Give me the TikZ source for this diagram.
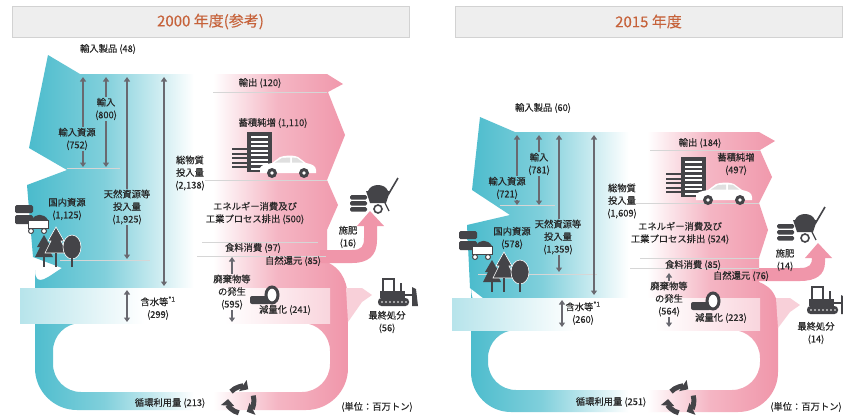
\documentclass[tikz,border=0pt]{standalone}
\usepackage{fontspec}
\setmainfont{Noto Sans CJK JP}[FakeBold=0.15]
\usetikzlibrary{arrows.meta}

\definecolor{flowblue}{RGB}{74,187,204}
\definecolor{flowpink}{RGB}{240,150,170}
\definecolor{icongray}{RGB}{68,68,72}
\definecolor{gaugegray}{RGB}{105,105,112}
\definecolor{titletext}{RGB}{198,98,58}

% blue -> white -> pink across the flow
\pgfdeclarehorizontalshading{flowlr}{100bp}{color(0bp)=(flowblue); color(25bp)=(flowblue);
  color(37bp)=(flowblue!70!white); color(51bp)=(white); color(54bp)=(white);
  color(64bp)=(flowpink!70!white); color(75bp)=(flowpink); color(100bp)=(flowpink)}
\pgfdeclarehorizontalshading{palelr}{100bp}{color(0bp)=(flowblue!40!white); color(25bp)=(flowblue!40!white);
  color(45bp)=(white); color(58bp)=(white); color(75bp)=(flowpink!40!white); color(100bp)=(flowpink!40!white)}

\tikzset{
  lbl/.style={font=\fontsize{9.3}{12.5}\selectfont, text=black!85, align=center, inner sep=0.8pt},
  yeartitle/.style={draw=gray!35, fill=gray!13, minimum height=31pt, text=titletext,
    font=\fontsize{15}{17}\selectfont, inner sep=0pt},
  gauge/.style={draw=gaugegray, line width=1.6pt, -{Triangle[length=4.5pt,width=6pt]}},
  bothway/.style={draw=gaugegray, line width=1.6pt, {Triangle[length=4.5pt,width=6pt]}-{Triangle[length=4.5pt,width=6pt]}},
  sepline/.style={draw=white!68!gray, line width=0.6pt},
  building/.pic={
    \foreach \y in {-4,0.5,...,16} \fill[icongray] (-20,\y) rectangle (-4,\y+2.2);
    \fill[icongray] (-5,-20) rectangle (20,20);
    \foreach \y in {-16,-11.5,...,16} \fill[white] (-1,\y) rectangle (16,\y+2.4);
  },
  car/.pic={
    \fill[white] (-28,6) -- (-28,1) .. controls (-27,-2) and (-22,-3) .. (-16,-4) -- (-8,-10)
      .. controls (-2,-12) and (6,-12) .. (10,-10) -- (18,-4) .. controls (24,-3) and (28,-1) .. (28,3) -- (28,6) -- cycle;
    \fill[gray!25] (-13,-4.5) -- (-6,-9) -- (2,-9.5) -- (2,-4.5) -- cycle;
    \fill[gray!25] (4,-9.5) -- (9,-9) -- (15,-4.5) -- (4,-4.5) -- cycle;
    \fill[icongray] (-16,6) circle (5) (16,6) circle (5);
    \fill[white] (-16,6) circle (1.8) (16,6) circle (1.8);
  },
  fert/.pic={
    \foreach \y in {-2,4,10} \fill[icongray, rounded corners=1.5pt] (-23,\y) rectangle (-6,\y+4.5);
    \fill[icongray] (-7,-6) -- (17,-6) -- (13,6) -- (-3,6) -- cycle;
    \fill[icongray] (-5,-6) .. controls (-2,-14) and (12,-14) .. (15,-6) -- cycle;
    \draw[icongray, line width=1.6pt] (15,-2) -- (25,-19);
    \draw[icongray, line width=1.3pt] (12,6) -- (16,14);
    \draw[icongray, line width=1.6pt, fill=white] (5,12) circle (4);
  },
  mine/.pic={
    \fill[icongray, rounded corners=1.5pt] (-17,-13) rectangle (1,-5);
    \fill[icongray, rounded corners=1.5pt] (-17,-3) rectangle (1,6);
    \fill[white, draw=icongray, line width=0.8pt] (-4,2) rectangle (16,10);
    \fill[icongray] (0,2) .. controls (3,-5) and (12,-5) .. (16,2) -- cycle;
    \draw[icongray, line width=1pt, fill=white] (-1,13) circle (2.5) (12,13) circle (2.5);
  },
  trees/.pic={
    \fill[icongray] (-14,-12) -- (-7,0) -- (-10,0) -- (-5,10) -- (-23,10) -- (-18,0) -- (-21,0) -- cycle;
    \fill[icongray] (-15,10) rectangle (-13,20);
    \fill[icongray, draw=white, line width=0.6pt] (-2,-20) -- (6,-6) -- (3,-6) -- (9,6) -- (-13,6) -- (-7,-6) -- (-10,-6) -- cycle;
    \fill[icongray] (-3,6) rectangle (-1,20);
    \fill[icongray, draw=white, line width=0.6pt] (14,0) ellipse (9 and 12);
    \fill[icongray] (13,10) rectangle (15,20);
  },
  tire/.pic={
    \fill[icongray, rounded corners=2pt] (-15,0) rectangle (5,8);
    \draw[icongray, line width=3pt, fill=white] (7,-1) ellipse (6 and 8);
  },
  dozer/.pic={
    \draw[icongray, line width=2pt] (-15,-13) -- (-2,-13) (-14,-13) -- (-14,0) (-3,-13) -- (-3,0);
    \fill[icongray] (-17,-1) rectangle (8,6);
    \draw[icongray, line width=1.5pt] (4,-1) -- (4,-9);
    \fill[icongray, rounded corners=3.5pt] (-19,6) rectangle (12,14);
    \foreach \x in {-15,-11,...,9} \fill[white] (\x,10) circle (0.8);
    \draw[icongray, line width=2pt] (8,3) -- (16,3);
    \fill[icongray] (15,-5) -- (19,-3) -- (21,14) -- (15,14) -- cycle;
  },
  % three chasing arrows, 84 degree arcs of radius 13
  recycle/.pic={
    \foreach \a in {100,220,340}
      \draw[icongray, line width=5pt, -{Triangle[length=6.5pt,width=13pt]}]
        (\a:13) .. controls +(\a+90:6.2) and +(\a-6:6.2) .. (\a+84:13);
  },
}

\begin{document}
\begin{tikzpicture}[x=1pt, y=-1pt]
\useasboundingbox (0,0) rectangle (843,416);
\fill[white] (0,0) rectangle (843,416);

\node[yeartitle, minimum width=397pt] (aTitle) at (210.5,21.5) {2000 年度(参考)};
\node[yeartitle, minimum width=387pt] (bTitle) at (648.5,21.5) {2015 年度};

% ---- 2000 ----
\shade[shading=flowlr, even odd rule]
  (48,55) -- (80,74) -- (327,74) -- (343,84) -- (328,92) -- (345,135) -- (327,180)
  -- (338,205) -- (327,230) -- (327,262)
  .. controls (344,270) and (348,285) .. (348,302)
  [rounded corners=42pt] -- (348,410) -- (35,410) -- (35,312)
  [sharp corners] .. controls (35,290) and (50,275) .. (62,268)
  -- (33,257) -- (27,185) -- (67,170) -- (29,148) -- cycle
  [rounded corners=28pt] (53,323) rectangle (330,392);
\shade[shading=palelr] (20,288) rectangle (330,323);
\fill[flowpink!45!white] (346,288) -- (362,288) -- (372,295) -- (362,302) -- (348,322) -- cycle;
\fill[flowpink] (320,250) -- (352,250) .. controls (362,250) and (364,246) .. (364,238) -- (364,226)
  -- (357,226) -- (370,211) -- (384,226) -- (377,226) -- (377,240)
  .. controls (377,256) and (368,263) .. (352,263) -- (320,263) -- cycle;

\draw[sepline] (67,168) -- (120,168);
\draw[sepline] (60,260) -- (150,260);
\draw[sepline] (213,92) -- (327,92);
\draw[sepline] (205,180) -- (327,180);
\draw[sepline] (202,242) -- (318,242);
\draw[sepline] (197,256) -- (326,256);

\pic at (252,152) {building};
\pic at (288,167) {car};
\pic at (373,197) {fert};
\pic at (32,218) {mine};
\pic at (58,247) {trees};
\pic at (265,296) {tire};
\pic at (397,292) {dozer};
\pic at (241,400) {recycle};

\node[lbl] (aImpProd) at (108,49) {輸入製品 (48)};
\node[lbl] (aImpRes) at (77,139) {輸入資源\\(752)};
\node[lbl] (aImp) at (106,109) {輸入\\(800)};
\node[lbl] (aNat) at (127,207) {天然資源等\\投入量\\(1,925)};
\node[lbl] (aTotal) at (190,173) {総物質\\投入量\\(2,138)};
\node[lbl] (aDom) at (67,209) {国内資源\\(1,125)};
\node[lbl] (aWater) at (158,308) {含水等\textsuperscript{*1}\\(299)};
\node[lbl] (aExport) at (260,83) {輸出 (120)};
\node[lbl] (aStock) at (273,123) {蓄積純増 (1,110)};
\node[lbl] (aEnergy) at (255,213) {エネルギー消費及び\\工業プロセス排出 (500)};
\node[lbl] (aFood) at (253,248) {食料消費 (97)};
\node[lbl] (aReturn) at (293,261) {自然還元 (85)};
\node[lbl] (aFert) at (348,237) {施肥\\(16)};
\node[lbl] (aWaste) at (232,292) {廃棄物等\\の発生\\(595)};
\node[lbl] (aReduce) at (285,310) {減量化 (241)};
\node[lbl] (aFinal) at (387,322) {最終処分\\(56)};
\node[lbl] (aCycle) at (170,403) {循環利用量 (213)};
\node[lbl] (aUnit) at (377,407) {(単位：百万トン)};

\coordinate (a1t) at (83,77);  \coordinate (a1b) at (83,167);
\coordinate (a2t) at (106,77); \coordinate (a2b) at (106,167);
\coordinate (a3t) at (127,77); \coordinate (a3b) at (127,259);
\coordinate (a4t) at (164,77); \coordinate (a4b) at (164,286);
\coordinate (a5t) at (127,290); \coordinate (a5b) at (127,322);
\coordinate (a6t) at (232,257); \coordinate (a6b) at (232,322);
\draw[gauge] (aImpRes.north -| a1t) -- (a1t);
\draw[gauge] (aImpRes.south -| a1b) -- (a1b);
\draw[gauge] (aImp.north) -- (a2t);
\draw[gauge] (aImp.south) -- (a2b);
\draw[gauge] (aNat.north) -- (a3t);
\draw[gauge] (aNat.south) -- (a3b);
\draw[bothway] (a4t) -- (a4b);
\draw[bothway] (a5t) -- (a5b);
\draw[gauge] (aWaste.north) -- (a6t);
\draw[gauge] (aWaste.south) -- (a6b);

% ---- 2015 ----
\shade[shading=flowlr, even odd rule]
  (480,117) -- (515,132) -- (759,132) -- (775,141) -- (760,150) -- (772,177) -- (759,203)
  -- (768,230) -- (759,258) -- (759,282)
  .. controls (774,288) and (778,298) .. (778,314)
  [rounded corners=40pt] -- (778,412) -- (471,412) -- (471,322)
  [sharp corners] .. controls (471,308) and (476,301) .. (483,298)
  -- (470,288) -- (467,225) -- (510,215) -- (472,190) -- cycle
  [rounded corners=28pt] (488,330) rectangle (760,390);
\shade[shading=palelr] (452,298) rectangle (760,330);
\fill[flowpink!45!white] (776,298) -- (790,298) -- (800,305) -- (790,312) -- (778,328) -- cycle;
\fill[flowpink] (752,268) -- (800,268) .. controls (810,268) and (812,264) .. (812,258)
  -- (805,258) -- (818,243) -- (832,258) -- (825,258) -- (825,262)
  .. controls (825,275) and (816,281) .. (800,281) -- (752,281) -- cycle;

\draw[sepline] (500,205) -- (555,205);
\draw[sepline] (478,274) -- (597,274);
\draw[sepline] (650,150) -- (760,150);
\draw[sepline] (636,203) -- (759,203);
\draw[sepline] (640,258) -- (759,258);
\draw[sepline] (630,268) -- (759,268);

\pic at (686,177) {building};
\pic at (724,194) {car};
\pic at (800,226) {fert};
\pic at (476,244) {mine};
\pic at (506,272) {trees};
\pic at (706,302) {tire};
\pic at (826,300) {dozer};
\pic at (681,400) {recycle};

\node[lbl] (bImpProd) at (543,108) {輸入製品 (60)};
\node[lbl] (bImpRes) at (507,188) {輸入資源\\(721)};
\node[lbl] (bImp) at (539,164) {輸入\\(781)};
\node[lbl] (bNat) at (558,237) {天然資源等\\投入量\\(1,359)};
\node[lbl] (bTotal) at (622,201) {総物質\\投入量\\(1,609)};
\node[lbl] (bDom) at (512,238) {国内資源\\(578)};
\node[lbl] (bWater) at (583,313) {含水等\textsuperscript{*1}\\(260)};
\node[lbl] (bExport) at (700,143) {輸出 (184)};
\node[lbl] (bStock) at (736,164) {蓄積純増\\(497)};
\node[lbl] (bEnergy) at (680,233) {エネルギー消費及び\\工業プロセス排出 (524)};
\node[lbl] (bFood) at (693,265) {食料消費 (85)};
\node[lbl] (bReturn) at (741,276) {自然還元 (76)};
\node[lbl] (bFert) at (785,260) {施肥\\(14)};
\node[lbl] (bWaste) at (669,299) {廃棄物等\\の発生\\(564)};
\node[lbl] (bReduce) at (721,318) {減量化 (223)};
\node[lbl] (bFinal) at (816,333) {最終処分\\(14)};
\node[lbl] (bCycle) at (611,402) {循環利用量 (251)};
\node[lbl] (bUnit) at (806,407) {(単位：百万トン)};

\coordinate (b1t) at (517,135); \coordinate (b1b) at (517,205);
\coordinate (b2t) at (539,135); \coordinate (b2b) at (539,205);
\coordinate (b3t) at (559,135); \coordinate (b3b) at (559,272);
\coordinate (b4t) at (594,135); \coordinate (b4b) at (594,295);
\coordinate (b5t) at (562,300); \coordinate (b5b) at (562,327);
\coordinate (b6t) at (669,273); \coordinate (b6b) at (669,327);
\draw[gauge] (bImpRes.north -| b1t) -- (b1t);
\draw[gauge] (bImpRes.south -| b1b) -- (b1b);
\draw[gauge] (bImp.north) -- (b2t);
\draw[gauge] (bImp.south) -- (b2b);
\draw[gauge] (bNat.north -| b3t) -- (b3t);
\draw[gauge] (bNat.south -| b3b) -- (b3b);
\draw[bothway] (b4t) -- (b4b);
\draw[bothway] (b5t) -- (b5b);
\draw[gauge] (bWaste.north) -- (b6t);
\draw[gauge] (bWaste.south) -- (b6b);
\end{tikzpicture}
\end{document}
